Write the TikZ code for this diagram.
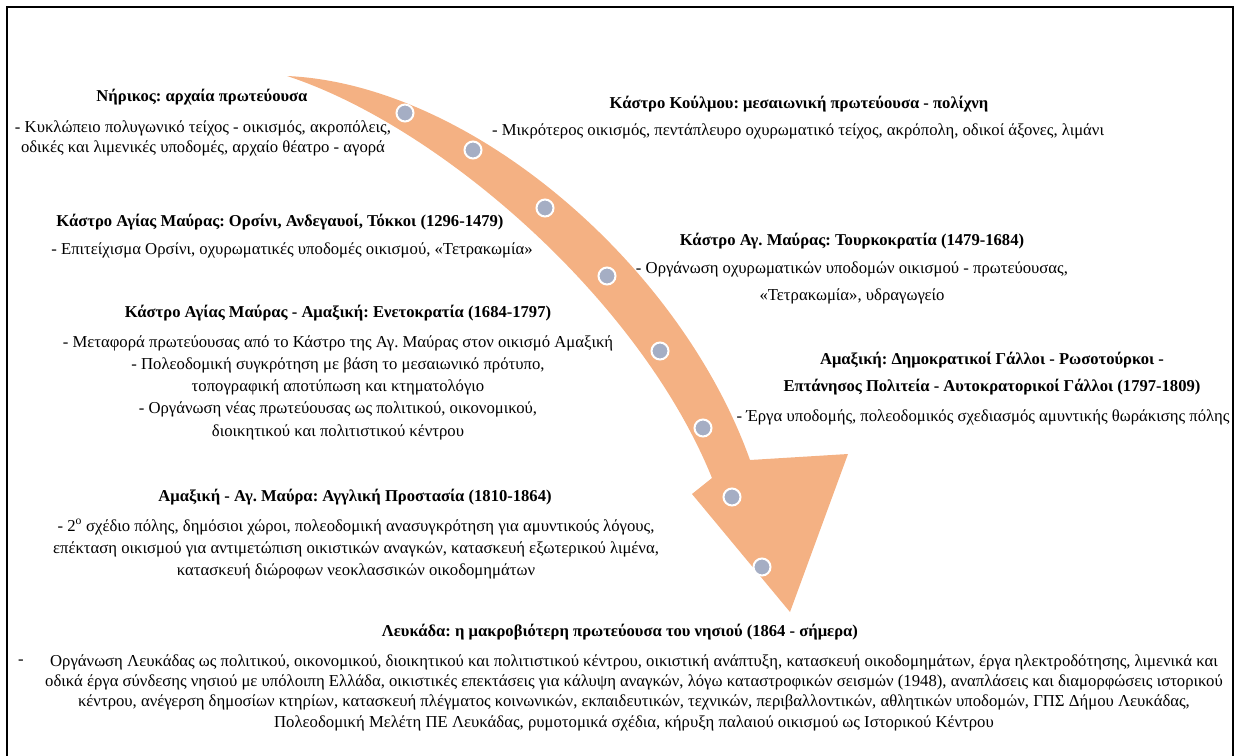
\documentclass[tikz,border=0pt]{standalone}
\usepackage{fontspec}
\setmainfont{Liberation Serif}
\usetikzlibrary{positioning}
\frenchspacing

\definecolor{swoosh}{RGB}{244,177,131}
\definecolor{stepdot}{RGB}{165,174,196}

\begin{document}
\begin{tikzpicture}[
    x=1pt, y=-1pt,
    every node/.style={inner sep=0pt, align=center},
    head/.style={font=\fontsize{16.6}{27}\selectfont\bfseries},
    body/.style={font=\fontsize{16.7}{20}\selectfont},
    dot/.style={circle, fill=stepdot, draw=white, line width=2pt, minimum size=17pt},
]

% === Canvas and frame ===
\useasboundingbox (0,0) rectangle (1236,755);
\draw[line width=2.5pt] (7,762) -- (7,7) -- (1233,7) -- (1233,762);

% === Swoosh arrow (tail at top left, head at bottom right) ===
\fill[swoosh]
    (287,76) .. controls (470,84) and (680,264) .. (750,460)  % outer edge
    -- (848,454)                                            % outer barb
    -- (790,612)                                            % tip
    -- (692,494)                                            % inner barb
    -- (712,478)
    .. controls (640,300) and (440,126) .. (287,76)         % inner edge
    -- cycle;

% === Steps on the arrow ===
\foreach \xx/\yy [count=\i] in {405/113, 473/150, 545/208, 607/276, 660/351, 703/428, 732/497, 762/567} {
    \node[dot] (d\i) at (\xx,\yy) {};
}

% === Left column ===
\node[head] (nerikos) at (202,97) {Νήρικος: αρχαία πρωτεύουσα};
\node[body] (nerikosB) at (203,138)
    {- Κυκλώπειο πολυγωνικό τείχος - οικισμός, ακροπόλεις,\\
     οδικές και λιμενικές υποδομές, αρχαίο θέατρο - αγορά};

\node[head] (orsini) at (280,222) {Κάστρο Αγίας Μαύρας: Ορσίνι, Ανδεγαυοί, Τόκκοι (1296-1479)};
\node[body] (orsiniB) at (292,250)
    {- Επιτείχισμα Ορσίνι, οχυρωματικές υποδομές οικισμού, «Τετρακωμία»};

\node[head] (venice) at (338,313) {Κάστρο Αγίας Μαύρας - Αμαξική: Ενετοκρατία (1684-1797)};
\node[body, font=\fontsize{16.7}{22.2}\selectfont] (veniceB) at (338,387.5)
    {- Μεταφορά πρωτεύουσας από το Κάστρο της Αγ. Μαύρας στον οικισμό Αμαξική\\
     - Πολεοδομική συγκρότηση με βάση το μεσαιωνικό πρότυπο,\\
     τοπογραφική αποτύπωση και κτηματολόγιο\\
     - Οργάνωση νέας πρωτεύουσας ως πολιτικού, οικονομικού,\\
     διοικητικού και πολιτιστικού κέντρου};

\node[head] (british) at (355,497) {Αμαξική - Αγ. Μαύρα: Αγγλική Προστασία (1810-1864)};
\node[body, font=\fontsize{16.7}{22}\selectfont] (britishB) at (356,549)
    {- 2\textsuperscript{ο} σχέδιο πόλης, δημόσιοι χώροι, πολεοδομική ανασυγκρότηση για αμυντικούς λόγους,\\
     επέκταση οικισμού για αντιμετώπιση οικιστικών αναγκών, κατασκευή εξωτερικού λιμένα,\\
     κατασκευή διώροφων νεοκλασσικών οικοδομημάτων};

% === Right column ===
\node[head] (koulmos) at (799,104) {Κάστρο Κούλμου: μεσαιωνική πρωτεύουσα - πολίχνη};
\node[body] (koulmosB) at (798,131)
    {- Μικρότερος οικισμός, πεντάπλευρο οχυρωματικό τείχος, ακρόπολη, οδικοί άξονες, λιμάνι};

\node[head] (turks) at (852,241) {Κάστρο Αγ. Μαύρας: Τουρκοκρατία (1479-1684)};
\node[body, font=\fontsize{16.7}{27}\selectfont] (turksB) at (852,282.5)
    {- Οργάνωση οχυρωματικών υποδομών οικισμού - πρωτεύουσας,\\
     «Τετρακωμία», υδραγωγείο};

\node[head] (french) at (992,373.5)
    {Αμαξική: Δημοκρατικοί Γάλλοι - Ρωσοτούρκοι -\\
     Επτάνησος Πολιτεία - Αυτοκρατορικοί Γάλλοι (1797-1809)};
\node[body] (frenchB) at (983,417)
    {- Έργα υποδομής, πολεοδομικός σχεδιασμός αμυντικής θωράκισης πόλης};

% === Bottom: today ===
\node[head] (lefkada) at (620,632) {Λευκάδα: η μακροβιότερη πρωτεύουσα του νησιού (1864 - σήμερα)};
\node[body] (lefkadaDash) at (21,662) {-};
\node[body, font=\fontsize{16.7}{20.3}\selectfont] (lefkadaB) at (634,692.5)
    {Οργάνωση Λευκάδας ως πολιτικού, οικονομικού, διοικητικού και πολιτιστικού κέντρου, οικιστική ανάπτυξη, κατασκευή οικοδομημάτων, έργα ηλεκτροδότησης, λιμενικά και\\
     οδικά έργα σύνδεσης νησιού με υπόλοιπη Ελλάδα, οικιστικές επεκτάσεις για κάλυψη αναγκών, λόγω καταστροφικών σεισμών (1948), αναπλάσεις και διαμορφώσεις ιστορικού\\
     κέντρου, ανέγερση δημοσίων κτηρίων, κατασκευή πλέγματος κοινωνικών, εκπαιδευτικών, τεχνικών, περιβαλλοντικών, αθλητικών υποδομών, ΓΠΣ Δήμου Λευκάδας,\\
     Πολεοδομική Μελέτη ΠΕ Λευκάδας, ρυμοτομικά σχέδια, κήρυξη παλαιού οικισμού ως Ιστορικού Κέντρου};

\end{tikzpicture}
\end{document}
